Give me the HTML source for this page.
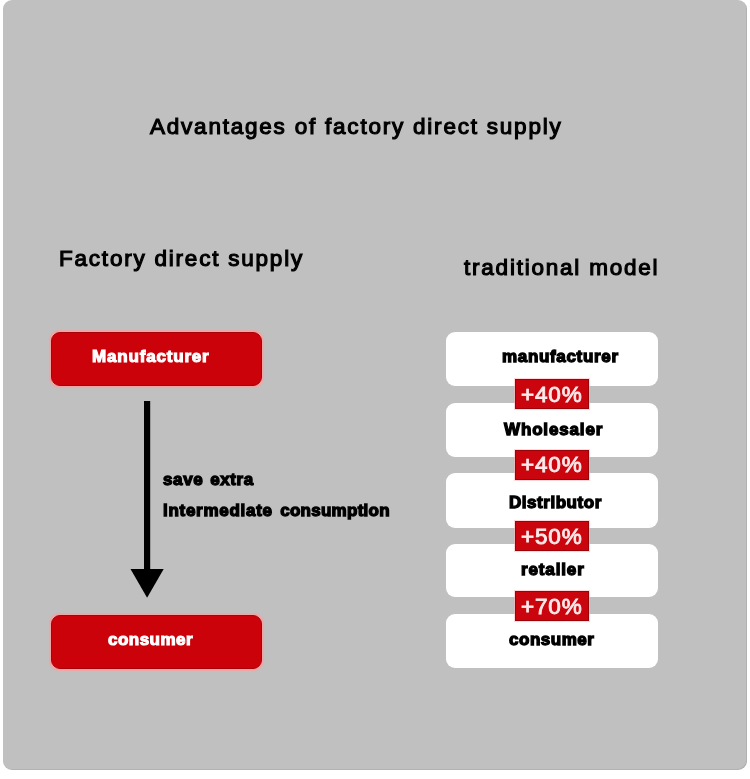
<!DOCTYPE html>
<html>
<head>
<meta charset="utf-8">
<title>Advantages of factory direct supply</title>
<style>
  html, body { margin: 0; padding: 0; background: #ffffff; }
  body { width: 750px; height: 779px; position: relative; overflow: hidden;
         font-family: "Liberation Sans", sans-serif; }
  .card { position: absolute; left: 3px; top: 0px; width: 743.8px; height: 770.2px;
          background: #c0c0c0; border-radius: 9px; box-shadow: inset -1px -1px 0 rgba(0,0,0,0.07); }
  .t { position: absolute; white-space: nowrap; line-height: 1; margin: 0; will-change: transform; }
  .h { font-size: 22.5px; font-weight: 400; color: #000; letter-spacing: 1.78px;
       -webkit-text-stroke: 1.15px #000; }
  .b { font-size: 17px; font-weight: 700; color: #000; -webkit-text-stroke: 1.3px #000; }
  .w { color: #fff; -webkit-text-stroke: 1.1px #fff; }
  .red { position: absolute; background: #cc020b; border: 1px solid #a90309;
         box-sizing: border-box; border-radius: 9px; box-shadow: 0 0 1px 1.6px rgba(248,160,160,0.8); }
  .white { position: absolute; background: #ffffff; border-radius: 9px; left: 446px; width: 212px; height: 54px; }
  .tag { position: absolute; left: 515px; width: 74px; height: 29.7px; background: #ca050e;
         box-sizing: border-box; border: 1px solid #9c0208; box-shadow: 0 0 0.5px 1px rgba(255,185,185,0.55); }
  .pct { position: absolute; white-space: nowrap; line-height: 1; font-size: 22.5px; color: #fdeaea; letter-spacing: 0.85px;
         -webkit-text-stroke: 0.9px #fdeaea; will-change: transform; }
</style>
</head>
<body>
<div class="card"></div>

<!-- headings -->
<div class="t h" id="title" style="left:150px; top:115.8px;">Advantages of factory direct supply</div>
<div class="t h" id="hleft" style="left:59px; top:247.8px;">Factory direct supply</div>
<div class="t h" id="hright" style="left:464px; top:256.7px;">traditional model</div>

<!-- left column -->
<div class="red" style="left:51px; top:332px; width:211px; height:53.5px;"></div>
<div class="t b w" id="lman" style="left:91.73px; top:348.12px; letter-spacing:0.82px;">Manufacturer</div>

<svg style="position:absolute; left:120px; top:395px;" width="60" height="210" viewBox="120 395 60 210">
  <rect x="144" y="401" width="6.2" height="170" fill="#000"/>
  <polygon points="130.5,569 163.7,569 147.1,597.8" fill="#000"/>
</svg>

<div class="t b" id="save" style="left:162.73px; top:470.72px; letter-spacing:0.61px; word-spacing:1.6px;">save extra</div>
<div class="t b" id="inter" style="left:162.53px; top:502.02px; letter-spacing:0.57px; word-spacing:2.1px;"><span style="letter-spacing:0.725px">intermediate</span> <span style="letter-spacing:0.27px">consumption</span></div>

<div class="red" style="left:51px; top:615px; width:211px; height:53.5px;"></div>
<div class="t b w" id="lcon" style="left:107.78px; top:630.92px; letter-spacing:0.47px;">consumer</div>

<!-- right column -->
<div class="white" style="top:332px; height:53.5px;"></div>
<div class="white" style="top:402.7px; height:54px;"></div>
<div class="white" style="top:473px; height:54.5px;"></div>
<div class="white" style="top:543.5px; height:53.6px;"></div>
<div class="white" style="top:614.1px; height:54px;"></div>

<div class="t b" id="rman" style="left:502.33px; top:347.62px; letter-spacing:0.67px;">manufacturer</div>
<div class="t b" id="rwho" style="left:504.33px; top:421.12px; letter-spacing:0.85px;">Wholesaler</div>
<div class="t b" id="rdis" style="left:509.03px; top:494.32px; letter-spacing:0.536px;">Distributor</div>
<div class="t b" id="rret" style="left:520.88px; top:561.22px; letter-spacing:0.87px;">retailer</div>
<div class="t b" id="rcon" style="left:508.53px; top:631.42px; letter-spacing:0.52px;">consumer</div>

<div class="tag" style="top:379px;"></div>
<div class="tag" style="top:450.2px;"></div>
<div class="tag" style="top:521.3px;"></div>
<div class="tag" style="top:590.9px;"></div>

<div class="pct" id="p1" style="left:520.6px; top:383.6px;">+40%</div>
<div class="pct" id="p2" style="left:520.6px; top:454.4px;">+40%</div>
<div class="pct" id="p3" style="left:520.6px; top:525.9px;">+50%</div>
<div class="pct" id="p4" style="left:520.6px; top:595.6px;">+70%</div>
</body>
</html>
